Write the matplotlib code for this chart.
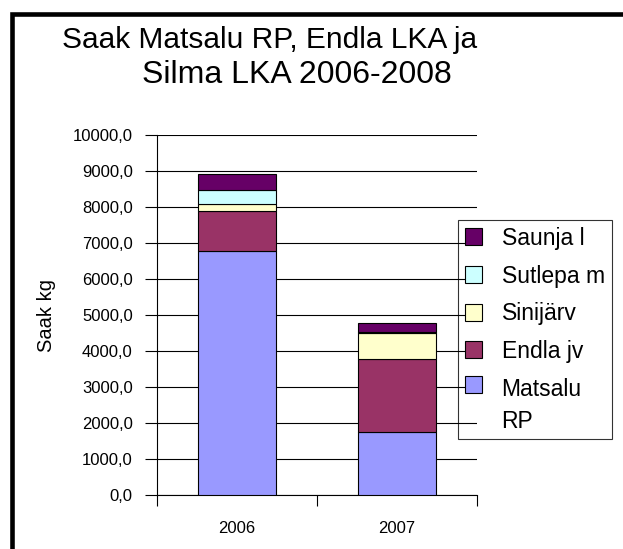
import matplotlib
matplotlib.use("Agg")
import matplotlib.pyplot as plt
from matplotlib.patches import Rectangle
from matplotlib.legend_handler import HandlerPatch

years = ["2006", "2007"]
series_names = ["Matsalu\nRP", "Endla jv", "Sinijärv", "Sutlepa m", "Saunja l"]
matsalu = [6790, 1750]
endla = [1090, 2020]
sinijarv = [210, 720]
sutlepa = [380, 45]
saunja = [440, 230]
colors = ["#9999FF", "#993366", "#FFFFCC", "#CCFFFF", "#660066"]

plt.rcParams["font.family"] = ["Liberation Sans", "DejaVu Sans"]

W, H = 623, 549
fig = plt.figure(figsize=(W / 100, H / 100), dpi=100)
ax = fig.add_axes([157 / W, 1 - 495 / H, 320 / W, 360 / H])

x = list(range(len(years)))
bottom = [0, 0]
handles = []
for name, vals, c in zip(series_names, [matsalu, endla, sinijarv, sutlepa, saunja], colors):
    b = ax.bar(x, vals, width=0.49, bottom=bottom, color=c, edgecolor="black",
               linewidth=0.8, label=name, zorder=3)
    handles.append(b.patches[0])
    bottom = [bt + v for bt, v in zip(bottom, vals)]

ax.set_xlim(-0.5, 1.5)
ax.set_ylim(0, 10000)
yt = list(range(0, 10001, 1000))
ax.set_yticks(yt)
ax.set_yticklabels([f"{v:.1f}".replace(".", ",") for v in yt], fontsize=12)
ax.set_xticks(x)
ax.set_xticklabels(years, fontsize=12)
ax.set_xticks([-0.5, 0.5, 1.5], minor=True)
ax.tick_params(axis="x", which="major", length=0, pad=19)
ax.tick_params(axis="x", which="minor", length=8, width=0.8, direction="out")
ax.tick_params(axis="y", length=9, width=0.8, direction="out", pad=8.5)
ax.grid(axis="y", color="black", linewidth=0.8, zorder=0)
ax.spines["top"].set_visible(False)
ax.spines["right"].set_visible(False)
ax.spines["left"].set_linewidth(0.8)
ax.spines["bottom"].set_linewidth(0.8)
ax.set_ylabel("Saak kg", fontsize=14.5, labelpad=12)

# title, two centred lines
fig.text(270 / W, 1 - 48 / H, "Saak Matsalu RP, Endla LKA ja", fontsize=21.5,
         ha="center", va="baseline")
fig.text(297 / W, 1 - 83 / H, "Silma LKA 2006-2008", fontsize=23,
         ha="center", va="baseline")


def top_square(legend, orig_handle, xdescent, ydescent, width, height, fontsize):
    # put the marker next to the first line of a two-line label
    return Rectangle((-xdescent, -ydescent + 0.95 * fontsize), width, height)


fs = 16.5
leg = fig.legend(handles[::-1], series_names[::-1], loc="upper left",
                 bbox_to_anchor=(458 / W, 1 - 220 / H), borderaxespad=0,
                 fontsize=fs, frameon=True, fancybox=False, facecolor="none",
                 edgecolor="black", handlelength=0.75, handleheight=0.75,
                 handletextpad=0.85, labelspacing=0.64, borderpad=0.3,
                 handler_map={handles[0]: HandlerPatch(patch_func=top_square)})
leg.get_frame().set_linewidth(0.8)
leg.get_texts()[-1].set_linespacing(1.5)

fig.patches.append(Rectangle((11.5 / W, -0.1), 1.2, 1 - 14 / H + 0.1,
                             transform=fig.transFigure, fill=False,
                             edgecolor="black", linewidth=3.3))

fig.savefig("out.png", dpi=100)
